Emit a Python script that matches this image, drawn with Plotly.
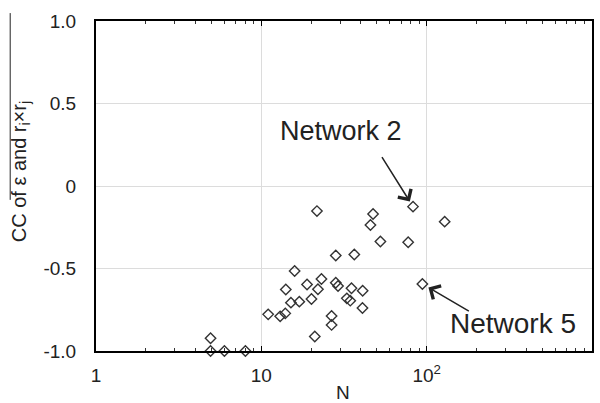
import math
import plotly.graph_objects as go

# Data
N_values = [4.93, 4.93, 5.98, 8.01, 11.0, 13.0, 13.96, 15.1, 14.06, 15.9,
            16.97, 18.9, 20.1, 21.05, 21.7, 22.0, 23.1, 26.6, 26.6, 28.2,
            28.2, 29.1, 32.9, 34.5, 35.1, 36.5, 41.0, 40.9, 45.7, 47.4,
            52.5, 77.3, 82.7, 94.2, 128.5]
cc_values = [-0.923, -1.0, -1.0, -1.0, -0.778, -0.79, -0.772, -0.707, -0.627, -0.515,
             -0.701, -0.597, -0.685, -0.912, -0.152, -0.626, -0.564, -0.788, -0.842, -0.421,
             -0.586, -0.606, -0.681, -0.695, -0.62, -0.415, -0.635, -0.739, -0.236, -0.17,
             -0.336, -0.341, -0.125, -0.594, -0.216]

x_tickvals = [1, 10, 100, 1000]
x_ticktext = ["1", "10", "10<sup>2</sup>", "10<sup>3</sup>"]
x_minor_ticks = [m * d for d in (1, 10, 100) for m in range(2, 10)]
y_tickvals = [-1.0, -0.5, 0, 0.5, 1.0]
y_ticktext = ["-1.0", "-0.5", "0", "0.5", "1.0"]

net2 = (82.7, -0.125)
net5 = (94.2, -0.594)

FONT = "Liberation Sans, Arial, sans-serif"
TXT = "#222222"

fig = go.Figure()
fig.add_trace(go.Scatter(
    x=N_values, y=cc_values, mode="markers",
    marker=dict(symbol="diamond-open", size=8, color="#333333",
                line=dict(width=1.4, color="#333333")),
    cliponaxis=False, showlegend=False,
))
# invisible helper trace bound to the minor-tick axis
fig.add_trace(go.Scatter(x=[1, 1000], y=[0, 0], xaxis="x2", mode="markers",
                         marker=dict(opacity=0), hoverinfo="skip", showlegend=False))

fig.update_layout(
    width=600, height=403,
    margin=dict(l=96, r=8, t=21, b=52),
    paper_bgcolor="white", plot_bgcolor="white",
    font=dict(family=FONT, color=TXT, size=17),
    xaxis=dict(
        type="log", range=[0, 3], automargin=False,
        tickvals=x_tickvals, ticktext=x_ticktext,
        showgrid=True, gridcolor="#dcdcdc", gridwidth=1,
        showline=True, linecolor="black", linewidth=2, mirror="ticks",
        ticks="inside", ticklen=5, tickcolor="black",
        ticklabelstandoff=6,
        tickfont=dict(size=19, color=TXT),
        zeroline=False,
    ),
    xaxis2=dict(
        type="log", range=[0, 3], overlaying="x", side="bottom",
        tickvals=x_minor_ticks, showticklabels=False, automargin=False,
        ticks="inside", ticklen=3, tickcolor="#333333", tickwidth=1,
        showgrid=False, showline=False, mirror="ticks", zeroline=False,
    ),
    yaxis=dict(
        range=[-1.0, 1.0], automargin=False,
        tickvals=y_tickvals, ticktext=y_ticktext,
        showgrid=True, gridcolor="#dcdcdc", gridwidth=1,
        showline=True, linecolor="black", linewidth=2, mirror=True,
        ticks="", ticklabelstandoff=14,
        tickfont=dict(size=19, color=TXT),
        zeroline=False,
    ),
    annotations=[
        dict(text="N", xref="paper", yref="paper", x=0.497, y=-0.127,
             showarrow=False, font=dict(size=19, color=TXT),
             xanchor="center", yanchor="middle"),
        dict(text="CC of ε and r<sub>i</sub>×r<sub>j</sub>", xref="paper", yref="paper",
             x=-0.153, y=0.542, textangle=-90, showarrow=False,
             font=dict(size=20, color=TXT), xanchor="center", yanchor="middle"),
        dict(x=math.log10(net2[0]), y=net2[1], xref="x", yref="y", text="", showarrow=True,
             ax=-32, ay=-51, arrowhead=4, arrowsize=2, arrowwidth=1.5,
             arrowcolor="#222222", standoff=6),
        dict(x=math.log10(net5[0]), y=net5[1], xref="x", yref="y", text="", showarrow=True,
             ax=48, ay=28, arrowhead=4, arrowsize=2, arrowwidth=1.5,
             arrowcolor="#222222", standoff=7),
        dict(text="Network 2", xref="paper", yref="paper", x=0.494, y=0.667,
             showarrow=False, font=dict(size=27, color=TXT),
             xanchor="center", yanchor="middle"),
        dict(text="Network 5", xref="paper", yref="paper", x=0.840, y=0.082,
             showarrow=False, font=dict(size=28, color=TXT),
             xanchor="center", yanchor="middle"),
    ],
    shapes=[
        dict(type="line", xref="paper", yref="paper",
             x0=-0.173, x1=-0.173, y0=0.458, y1=1.024,
             line=dict(color="#222222", width=1)),
    ],
)

fig.write_html("out.html", config={"displayModeBar": False},
               post_script="document.body.style.margin='0';")
